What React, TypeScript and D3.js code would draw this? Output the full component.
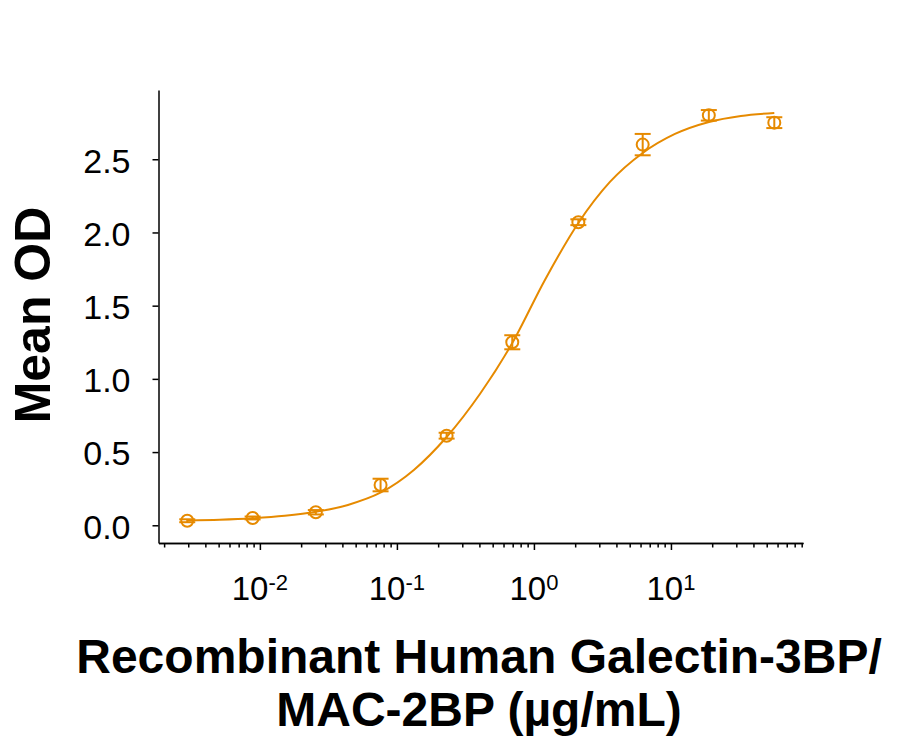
import React, { useEffect, useRef } from 'react';
import * as d3 from 'd3';

// dose in µg/mL, mean OD and error
const doses = [0.00295, 0.00885, 0.0256, 0.076, 0.2306, 0.695, 2.11, 6.22, 18.9, 56.8];
const meanOD = [0.031, 0.05, 0.089, 0.275, 0.612, 1.25, 2.07, 2.6, 2.8, 2.75];
const errOD = [0.01, 0.01, 0.015, 0.043, 0.02, 0.048, 0.02, 0.073, 0.036, 0.037];

// fitted curve
const curveDose = [0.00295, 0.0051, 0.00885, 0.0152, 0.0256, 0.0439, 0.0764, 0.133, 0.2306, 0.4035, 0.695, 1.203, 2.11, 3.587, 6.22, 10.7, 18.94, 32.4, 56.8];
const curveOD = [0.033, 0.038, 0.048, 0.065, 0.092, 0.139, 0.224, 0.378, 0.603, 0.897, 1.245, 1.676, 2.065, 2.345, 2.543, 2.673, 2.755, 2.796, 2.816];

const yTicks = [0, 0.5, 1, 1.5, 2, 2.5];
const xMajor = [0.01, 0.1, 1, 10];
const xMajorExp = ['-2', '-1', '0', '1'];

const W = 907;
const H = 748;
const COLOR = '#E68A00';
const FONT = '"Liberation Sans", Arial, Helvetica, sans-serif';

const App = () => {
  const svgRef = useRef<SVGSVGElement>(null);

  useEffect(() => {
    const svg = d3.select(svgRef.current);
    svg.selectAll('*').remove();

    const x = d3.scaleLog().domain([0.00182, 92]).range([158.5, 803]);
    const y = d3.scaleLinear().domain([-0.121, 2.973]).range([543, 90]);

    // y axis
    const yAxis = d3.axisLeft(y)
      .tickValues(yTicks)
      .tickSize(6)
      .tickSizeOuter(0)
      .tickPadding(22)
      .tickFormat(d3.format('.1f') as any);
    const gy = svg.append('g').attr('transform', `translate(${x.range()[0]},0)`).call(yAxis);
    gy.selectAll('text')
      .attr('font-size', 34)
      .attr('font-family', FONT)
      .attr('fill', '#000')
      .attr('dy', '0.38em');
    gy.selectAll('line, path').attr('stroke', '#000').attr('stroke-width', 1.5);

    // x axis: minor ticks then major ticks
    const minor: number[] = [];
    for (let e = -3; e <= 1; e++) {
      for (let m = 2; m <= 9; m++) {
        const v = m * Math.pow(10, e);
        if (v >= x.domain()[0] && v <= x.domain()[1]) minor.push(v);
      }
    }
    const xMinorAxis = d3.axisBottom(x).tickValues(minor).tickSize(4.5).tickSizeOuter(0).tickFormat(() => '');
    const xMajorAxis = d3.axisBottom(x).tickValues(xMajor).tickSize(7).tickSizeOuter(0).tickFormat(() => '');
    const gxm = svg.append('g').attr('transform', `translate(0,${y.range()[0]})`).call(xMinorAxis);
    const gx = svg.append('g').attr('transform', `translate(0,${y.range()[0]})`).call(xMajorAxis);
    [gxm, gx].forEach(g => g.selectAll('line, path').attr('stroke', '#000').attr('stroke-width', 1.5));

    const xLabels = svg.append('g')
      .selectAll('text')
      .data(xMajor)
      .join('text')
      .attr('x', d => x(d))
      .attr('y', 600)
      .attr('text-anchor', 'middle')
      .attr('font-family', FONT)
      .attr('fill', '#000');
    xLabels.append('tspan').attr('font-size', 33).text('10');
    xLabels.append('tspan').attr('font-size', 22).attr('dy', -10).text((d, i) => xMajorExp[i]);

    // fitted curve
    const pts = curveDose.map((d, i) => [x(d), y(curveOD[i])] as [number, number]);
    svg.append('path')
      .attr('d', d3.line().curve(d3.curveMonotoneX)(pts))
      .attr('fill', 'none')
      .attr('stroke', COLOR)
      .attr('stroke-width', 2);

    // error bars
    const data = doses.map((d, i) => ({ d, m: meanOD[i], e: errOD[i] }));
    const eb = svg.append('g').attr('stroke', COLOR).attr('stroke-width', 2);
    eb.selectAll('.stem').data(data).join('line')
      .attr('x1', p => x(p.d)).attr('x2', p => x(p.d))
      .attr('y1', p => y(p.m - p.e)).attr('y2', p => y(p.m + p.e));
    eb.selectAll('.capT').data(data).join('line')
      .attr('x1', p => x(p.d) - 8).attr('x2', p => x(p.d) + 8)
      .attr('y1', p => y(p.m + p.e)).attr('y2', p => y(p.m + p.e));
    eb.selectAll('.capB').data(data).join('line')
      .attr('x1', p => x(p.d) - 8).attr('x2', p => x(p.d) + 8)
      .attr('y1', p => y(p.m - p.e)).attr('y2', p => y(p.m - p.e));

    // points
    svg.append('g').selectAll('circle').data(data).join('circle')
      .attr('cx', p => x(p.d))
      .attr('cy', p => y(p.m))
      .attr('r', 6)
      .attr('fill', 'none')
      .attr('stroke', COLOR)
      .attr('stroke-width', 2);

    // axis titles
    svg.append('text')
      .attr('transform', 'translate(50,315) rotate(-90)')
      .attr('text-anchor', 'middle')
      .attr('font-family', FONT)
      .attr('font-weight', 'bold')
      .attr('font-size', 50)
      .attr('fill', '#000')
      .text('Mean OD');

    const title = svg.append('text')
      .attr('text-anchor', 'middle')
      .attr('font-family', FONT)
      .attr('font-weight', 'bold')
      .attr('font-size', 48)
      .attr('fill', '#000');
    title.append('tspan').attr('x', 479).attr('y', 673).text('Recombinant Human Galectin-3BP/');
    title.append('tspan').attr('x', 479).attr('y', 726).text('MAC-2BP (µg/mL)');
  }, []);

  return (
    <svg
      ref={svgRef}
      width={W}
      height={H}
      style={{ position: 'absolute', left: 0, top: 0, background: '#fff' }}
    />
  );
};

export default App;
